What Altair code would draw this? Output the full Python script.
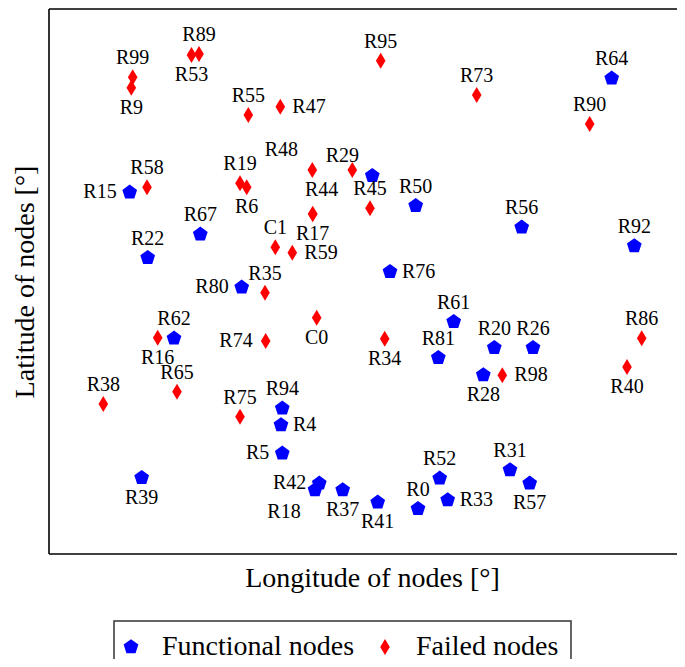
import altair as alt
import pandas as pd

# Functional nodes (blue pentagons)
func_names = ["R64", "R15", "R67", "R22", "R50", "R56", "R92", "R76", "", "R80",
              "R62", "R94", "R4", "R5", "R39", "R42", "R18", "R37", "R61", "R81",
              "R20", "R26", "R28", "R31", "R57", "R52", "R33", "R0", "R41"]
func_lon = [562.7, 80.7, 151.3, 98.7, 366.7, 472.7, 585.3, 341.0, 323.3, 192.7,
            125.0, 233.3, 232.0, 233.3, 92.7, 270.3, 266.0, 293.7, 404.7, 389.3,
            445.3, 484.0, 434.3, 461.0, 480.7, 390.7, 398.7, 369.0, 328.7]
func_lat = [475.7, 361.7, 319.7, 296.3, 348.3, 326.7, 308.0, 282.3, 378.3, 266.7,
            215.7, 145.7, 129.0, 100.7, 76.3, 70.7, 64.0, 64.0, 232.3, 196.3,
            206.3, 206.3, 179.0, 84.0, 70.7, 75.7, 54.0, 45.3, 51.7]
func_pos = ["above", "left", "above", "above", "above", "above", "above", "right", "none", "left",
            "above", "above", "right", "left", "below", "left", "below_left", "below", "above", "above",
            "above", "above", "below", "above", "below", "above", "right", "above", "below"]

# Failed nodes (red diamonds)
fail_names = ["R89", "R53", "R99", "R9", "R55", "R47", "R58", "R19", "R6", "R48",
              "R29", "R44", "R17", "C1", "R59", "R95", "R73", "R90", "R45", "R35",
              "C0", "R16", "R74", "R65", "R38", "R75", "R34", "R98", "R86", "R40"]
fail_lon = [150.0, 142.5, 83.7, 82.3, 199.3, 231.3, 98.0, 191.0, 197.7, 263.3,
            303.3, 263.7, 263.7, 226.3, 243.3, 331.7, 427.7, 540.7, 321.0, 216.0,
            267.7, 108.7, 216.7, 128.0, 54.3, 191.0, 335.7, 453.3, 592.7, 578.0]
fail_lat = [500.0, 499.0, 476.7, 466.3, 439.0, 447.3, 366.7, 370.7, 366.7, 384.0,
            384.0, 340.0, 340.0, 306.7, 301.3, 493.3, 459.0, 430.0, 345.7, 261.3,
            236.3, 216.3, 213.0, 162.3, 150.0, 137.3, 215.3, 178.7, 215.7, 187.0]
fail_pos = ["above", "below", "above", "below", "above", "right", "above", "above", "below", "above_left",
            "above_near", "above_right", "below", "above", "right", "above", "above", "above", "above", "above",
            "below", "below", "left", "above", "above", "above", "below", "right", "above", "below"]

status_domain = ["Functional nodes", "Failed nodes"]

df = pd.concat([
    pd.DataFrame({"lon": func_lon, "lat": func_lat, "name": func_names,
                  "pos": func_pos, "status": status_domain[0]}),
    pd.DataFrame({"lon": fail_lon, "lat": fail_lat, "name": fail_names,
                  "pos": fail_pos, "status": status_domain[1]}),
], ignore_index=True)

PENTAGON = "M0,-1L0.951,-0.309L0.588,0.809L-0.588,0.809L-0.951,-0.309Z"
DIAMOND = "M0,-1L0.6,0L0,1L-0.6,0Z"
FONT = "Liberation Serif"
W, H = 628, 545

x_enc = alt.X("lon:Q", scale=alt.Scale(domain=[0, W], nice=False, zero=False),
              axis=alt.Axis(title="Longitude of nodes [°]", ticks=False, labels=False,
                            domain=False, grid=False, titleFont=FONT, titleFontSize=28,
                            titleFontWeight="normal", titleColor="black", titlePadding=10,
                            titleX=323))
y_enc = alt.Y("lat:Q", scale=alt.Scale(domain=[0, H], nice=False, zero=False),
              axis=alt.Axis(title="Latitude of nodes [°]", ticks=False, labels=False,
                            domain=False, grid=False, titleFont=FONT, titleFontSize=28,
                            titleFontWeight="normal", titleColor="black", titlePadding=10))

base = alt.Chart(df)

points = base.mark_point(filled=True, opacity=1, strokeWidth=0).encode(
    x=x_enc, y=y_enc,
    shape=alt.Shape("status:N", scale=alt.Scale(domain=status_domain, range=[PENTAGON, DIAMOND]),
                    legend=alt.Legend(title=None)),
    color=alt.Color("status:N", scale=alt.Scale(domain=status_domain, range=["#0000ff", "#ff0000"]),
                    legend=alt.Legend(title=None)),
    size=alt.Size("status:N", scale=alt.Scale(domain=status_domain, range=[240, 256]), legend=None),
)

offsets = {
    "above": dict(dx=0, dy=-19, align="center"),
    "below": dict(dx=0, dy=20, align="center"),
    "left": dict(dx=-13, dy=0, align="right"),
    "right": dict(dx=12, dy=0, align="left"),
    "above_left": dict(dx=-31, dy=-20, align="center"),
    "below_left": dict(dx=-31, dy=22, align="center"),
    "above_near": dict(dx=-10, dy=-14, align="center"),
    "above_right": dict(dx=9, dy=-24, align="center"),
}

layers = [points]
for p, o in offsets.items():
    layers.append(
        base.transform_filter(alt.datum.pos == p).mark_text(
            font=FONT, fontSize=20, color="black", baseline="middle", **o
        ).encode(x="lon:Q", y="lat:Q", text="name:N")
    )

# frame: left, top and bottom edges (right edge lies beyond the picture)
frame_src = alt.Chart(pd.DataFrame({"k": [0]}))
frame_style = dict(color="black", strokeWidth=1.6)
layers.append(frame_src.mark_rule(**frame_style).encode(
    x=alt.value(0), y=alt.value(0), y2=alt.value(H)))
layers.append(frame_src.mark_rule(**frame_style).encode(
    y=alt.value(0), x=alt.value(0), x2=alt.value(W + 20)))
layers.append(frame_src.mark_rule(**frame_style).encode(
    y=alt.value(H), x=alt.value(0), x2=alt.value(W + 20)))

chart = alt.layer(*layers).properties(
    width=W, height=H,
    autosize=alt.AutoSizeParams(type="none"),
    padding={"left": 41, "top": 1, "right": 0, "bottom": 105},
).configure_view(
    stroke=None
).configure_legend(
    orient="none", legendX=65, legendY=612, direction="horizontal",
    strokeColor="#333333", strokeWidth=1.5, padding=12, fillColor="white",
    labelFont=FONT, labelFontSize=28, labelColor="black", labelOffset=17,
    labelLimit=0, columnPadding=25, symbolSize=240, symbolStrokeWidth=0,
    symbolOffset=-9, symbolOpacity=1, cornerRadius=0
)

chart.save("out.html", embed_options={"renderer": "svg", "actions": False})
